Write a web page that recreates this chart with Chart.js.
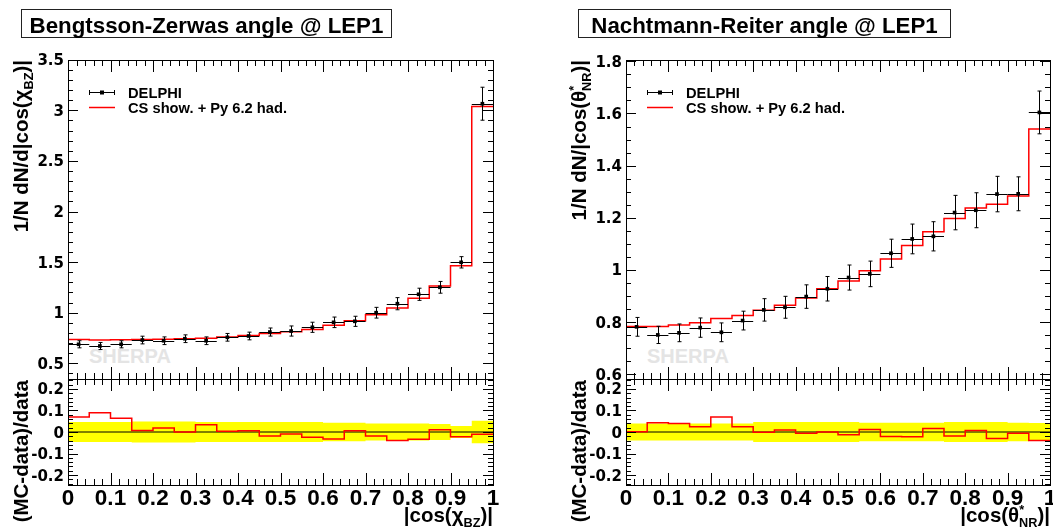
<!DOCTYPE html>
<html>
<head>
<meta charset="utf-8">
<title>Bengtsson-Zerwas and Nachtmann-Reiter angles @ LEP1</title>
<script src="https://cdn.jsdelivr.net/npm/chart.js@4.4.1/dist/chart.umd.min.js"></script>
<style>
  html, body { margin: 0; padding: 0; background: #fff; }
  #page { position: relative; width: 1053px; height: 529px; overflow: hidden;
    font-family: "Liberation Sans", Arial, Helvetica, sans-serif; font-weight: bold; color: #000; }
  #page canvas { position: absolute; left: 0; top: 0; }
  .title { position: absolute; top: 9px; height: 27px; line-height: 31px; border: 1px solid #222;
    font-size: 22.3px; text-align: center; white-space: nowrap; }
  .ytitle { position: absolute; width: 400px; height: 20px; line-height: 20px; font-size: 20.5px;
    text-align: right; white-space: nowrap; transform-origin: 0 0; transform: rotate(-90deg); }
  .xtitle { position: absolute; width: 300px; height: 20px; line-height: 20px; font-size: 20.5px;
    text-align: right; white-space: nowrap; }
  .sherpa { position: absolute; top: 346px; font-size: 20px; line-height: 20px; color: #e4e4e4; }
  sub, sup { font-size: 0.62em; line-height: 0; }
  sup.star { margin-right: -0.4em; }
</style>
</head>
<body>
<div id="page">
  <div class="sherpa" style="left:89px">SHERPA</div>
  <div class="sherpa" style="left:647px">SHERPA</div>

  <canvas id="bzMain" width="1053" height="529"></canvas>
  <canvas id="bzRatio" width="1053" height="529"></canvas>
  <canvas id="nrMain" width="1053" height="529"></canvas>
  <canvas id="nrRatio" width="1053" height="529"></canvas>

  <div class="title" style="left:21px; width:369px">Bengtsson-Zerwas angle @ LEP1</div>
  <div class="title" style="left:578px; width:371px">Nachtmann-Reiter angle @ LEP1</div>

  <div class="ytitle" style="left:11px; top:460px">1/N dN/d|cos(χ<sub>BZ</sub>)|</div>
  <div class="ytitle" style="left:11px; top:780px">(MC-data)/data</div>
  <div class="ytitle" style="left:569px; top:460px">1/N dN/|cos(θ<sup class="star">*</sup><sub>NR</sub>)|</div>
  <div class="ytitle" style="left:569px; top:780px">(MC-data)/data</div>

  <div class="xtitle" style="left:193px; top:505px">|cos(χ<sub>BZ</sub>)|</div>
  <div class="xtitle" style="left:750px; top:505px">|cos(θ<sup class="star">*</sup><sub>NR</sub>)|</div>
</div>

<script>
// bins in |cos|, 20 bins of 0.05
const binEdges = [0, 0.05, 0.1, 0.15, 0.2, 0.25, 0.3, 0.35, 0.4, 0.45, 0.5,
  0.55, 0.6, 0.65, 0.7, 0.75, 0.8, 0.85, 0.9, 0.95, 1];

// Bengtsson-Zerwas
const bzData = [0.688, 0.671, 0.688, 0.730, 0.723, 0.743, 0.723, 0.757, 0.770, 0.809,
  0.819, 0.856, 0.905, 0.915, 1.000, 1.089, 1.182, 1.251, 1.498, 3.065];
const bzErr = [0.035, 0.035, 0.035, 0.038, 0.038, 0.038, 0.038, 0.038, 0.038, 0.040,
  0.050, 0.050, 0.052, 0.050, 0.053, 0.060, 0.060, 0.058, 0.056, 0.163];
const bzMC = [0.736, 0.731, 0.732, 0.735, 0.737, 0.743, 0.748, 0.759, 0.775, 0.794,
  0.812, 0.835, 0.875, 0.920, 0.981, 1.046, 1.142, 1.264, 1.465, 3.037];
const bzRatio = [0.070, 0.090, 0.064, 0.007, 0.019, 0.000, 0.034, 0.003, 0.006, -0.019,
  -0.009, -0.024, -0.033, 0.006, -0.019, -0.039, -0.034, 0.010, -0.022, -0.010];
const bzBand = [0.046, 0.046, 0.046, 0.049, 0.049, 0.049, 0.046, 0.046, 0.046, 0.046,
  0.046, 0.046, 0.043, 0.043, 0.039, 0.039, 0.040, 0.037, 0.028, 0.052];

// Nachtmann-Reiter
const nrData = [0.782, 0.751, 0.759, 0.779, 0.761, 0.806, 0.847, 0.857, 0.898, 0.928,
  0.971, 0.985, 1.064, 1.119, 1.129, 1.220, 1.229, 1.291, 1.292, 1.604];
const nrErr = [0.036, 0.033, 0.034, 0.037, 0.036, 0.036, 0.043, 0.042, 0.045, 0.047,
  0.048, 0.049, 0.054, 0.057, 0.056, 0.066, 0.067, 0.068, 0.065, 0.082];
const nrMC = [0.783, 0.783, 0.789, 0.798, 0.814, 0.825, 0.846, 0.865, 0.893, 0.928,
  0.958, 0.997, 1.042, 1.094, 1.147, 1.197, 1.238, 1.252, 1.284, 1.540];
const nrRatio = [0.001, 0.043, 0.040, 0.024, 0.070, 0.024, -0.001, 0.009, -0.006, 0.000,
  -0.013, 0.012, -0.021, -0.022, 0.016, -0.019, 0.007, -0.030, -0.006, -0.040];
const nrBand = [0.040, 0.040, 0.040, 0.040, 0.040, 0.040, 0.046, 0.046, 0.046, 0.046,
  0.046, 0.043, 0.043, 0.043, 0.043, 0.047, 0.047, 0.047, 0.043, 0.042];

// tick labels
const xTicks = [0, 0.1, 0.2, 0.3, 0.4, 0.5, 0.6, 0.7, 0.8, 0.9, 1];
const bzYTicks = [0.5, 1, 1.5, 2, 2.5, 3, 3.5];
const nrYTicks = [0.6, 0.8, 1, 1.2, 1.4, 1.6, 1.8];
const ratioYTicks = [-0.2, -0.1, 0, 0.1, 0.2];

const binCenters = binEdges.slice(0, -1).map((e, i) => (e + binEdges[i + 1]) / 2);

function stepPoints(vals) {
  const pts = vals.map((v, i) => ({ x: binEdges[i], y: v }));
  pts.push({ x: binEdges[vals.length], y: vals[vals.length - 1] });
  return pts;
}

const fmt = (v) => String(Math.round(v * 100) / 100);

// ROOT-like frame: inward ticks on all sides, labels, error bars, legend
const rootFrame = {
  id: "rootFrame",
  beforeDatasetDraw(chart, args, opts) {
    if (!opts.errors || args.index !== 0) return;
    const ctx = chart.ctx;
    const x = chart.scales.x;
    const y = chart.scales.y;
    ctx.save();
    ctx.strokeStyle = "#000";
    ctx.lineWidth = 1;
    ctx.beginPath();
    chart.data.datasets[0].data.forEach((p, i) => {
      const xl = x.getPixelForValue(binEdges[i]);
      const xr = x.getPixelForValue(binEdges[i + 1]);
      const cx = Math.round(x.getPixelForValue(p.x)) + 0.5;
      const cy = Math.round(y.getPixelForValue(p.y)) + 0.5;
      const yt = y.getPixelForValue(p.y + opts.errors[i]);
      const yb = y.getPixelForValue(p.y - opts.errors[i]);
      ctx.moveTo(xl, cy);
      ctx.lineTo(xr, cy);
      ctx.moveTo(cx, yt);
      ctx.lineTo(cx, yb);
      ctx.moveTo(cx - 2, yt);
      ctx.lineTo(cx + 2, yt);
      ctx.moveTo(cx - 2, yb);
      ctx.lineTo(cx + 2, yb);
    });
    ctx.stroke();
    ctx.restore();
  },
  afterDraw(chart, args, opts) {
    const ctx = chart.ctx;
    const a = chart.chartArea;
    const x = chart.scales.x;
    const y = chart.scales.y;
    ctx.save();
    ctx.strokeStyle = "#000";
    ctx.lineWidth = 1;
    ctx.beginPath();
    for (let i = 0; i <= 50; i++) {
      const px = Math.round(x.getPixelForValue(i / 50)) + 0.5;
      const len = i % 5 === 0 ? 12 : 6;
      ctx.moveTo(px, a.bottom);
      ctx.lineTo(px, a.bottom - len);
      ctx.moveTo(px, a.top);
      ctx.lineTo(px, a.top + len);
    }
    const n0 = Math.ceil(y.min / opts.yMinor - 1e-6);
    const n1 = Math.floor(y.max / opts.yMinor + 1e-6);
    for (let k = n0; k <= n1; k++) {
      const v = k * opts.yMinor;
      const major = Math.abs(v / opts.yMajor - Math.round(v / opts.yMajor)) < 1e-6;
      const py = Math.round(y.getPixelForValue(v)) + 0.5;
      const len = major ? 10 : 5;
      ctx.moveTo(a.left, py);
      ctx.lineTo(a.left + len, py);
      ctx.moveTo(a.right, py);
      ctx.lineTo(a.right - len, py);
    }
    ctx.stroke();
    ctx.strokeRect(a.left + 0.5, a.top + 0.5, a.right - a.left, a.bottom - a.top);

    ctx.fillStyle = "#000";
    ctx.font = 'bold 15px "DejaVu Sans"';
    ctx.textAlign = "right";
    opts.yTicks.forEach((v) => {
      ctx.fillText(fmt(v), a.left - 4, y.getPixelForValue(v) + 5.5);
    });
    if (opts.xTicks) {
      ctx.font = 'bold 22.5px "Liberation Sans"';
      ctx.textAlign = "center";
      opts.xTicks.forEach((v) => {
        ctx.fillText(fmt(v), x.getPixelForValue(v), a.bottom + 20);
      });
    }

    if (opts.legend) {
      const ds = chart.data.datasets;
      const lx = a.left + 21;
      const ly1 = a.top + 32.5;
      const ly2 = a.top + 47.5;
      ctx.beginPath();
      ctx.moveTo(lx, ly1);
      ctx.lineTo(lx + 26, ly1);
      ctx.moveTo(lx + 0.5, ly1 - 2.5);
      ctx.lineTo(lx + 0.5, ly1 + 2.5);
      ctx.moveTo(lx + 25.5, ly1 - 2.5);
      ctx.lineTo(lx + 25.5, ly1 + 2.5);
      ctx.stroke();
      ctx.fillRect(lx + 11, ly1 - 2, 4, 4);
      ctx.strokeStyle = ds[1].borderColor;
      ctx.lineWidth = ds[1].borderWidth;
      ctx.beginPath();
      ctx.moveTo(lx, ly2);
      ctx.lineTo(lx + 26, ly2);
      ctx.stroke();
      ctx.font = 'bold 14.7px "Liberation Sans"';
      ctx.textAlign = "left";
      ctx.fillText(ds[0].label, a.left + 60, a.top + 37.7);
      ctx.fillText(ds[1].label, a.left + 60, a.top + 53);
    }
    ctx.restore();
  },
};
Chart.register(rootFrame);

function baseOptions(area, yMin, yMax, frame) {
  return {
    responsive: false,
    animation: false,
    devicePixelRatio: 1,
    events: [],
    layout: {
      autoPadding: false,
      padding: { left: area.left, top: area.top, right: 1053 - area.right, bottom: 529 - area.bottom },
    },
    scales: {
      x: { type: "linear", min: 0, max: 1, display: false },
      y: { type: "linear", min: yMin, max: yMax, display: false },
    },
    plugins: {
      legend: { display: false },
      tooltip: { enabled: false },
      rootFrame: frame,
    },
  };
}

function mainChart(id, area, vals, errs, mc, yMin, yMax, yTicks, yMajor, yMinor) {
  return new Chart(document.getElementById(id), {
    type: "line",
    data: {
      datasets: [
        {
          label: "DELPHI",
          data: vals.map((v, i) => ({ x: binCenters[i], y: v })),
          showLine: false,
          pointStyle: "rect",
          pointRadius: 2.6,
          pointBackgroundColor: "#000",
          pointBorderColor: "#000",
          pointBorderWidth: 0,
          order: 1,
        },
        {
          label: "CS show. + Py 6.2 had.",
          data: stepPoints(mc),
          stepped: true,
          borderColor: "#ff0000",
          borderWidth: 1.5,
          pointRadius: 0,
          fill: false,
          order: 2,
        },
      ],
    },
    options: baseOptions({ left: area.left, right: area.right, top: 60, bottom: 379 }, yMin, yMax, {
      errors: errs,
      yTicks: yTicks,
      yMajor: yMajor,
      yMinor: yMinor,
      legend: true,
    }),
  });
}

function ratioChart(id, area, ratio, band) {
  return new Chart(document.getElementById(id), {
    type: "line",
    data: {
      datasets: [
        {
          label: "MC",
          data: stepPoints(ratio),
          stepped: true,
          borderColor: "#ff0000",
          borderWidth: 1.5,
          pointRadius: 0,
          fill: false,
          order: 1,
        },
        {
          label: "zero",
          data: [{ x: 0, y: 0 }, { x: 1, y: 0 }],
          borderColor: "#000",
          borderWidth: 1,
          pointRadius: 0,
          fill: false,
          order: 2,
        },
        {
          label: "band up",
          data: stepPoints(band),
          stepped: true,
          borderColor: "rgba(0,0,0,0)",
          borderWidth: 0,
          pointRadius: 0,
          backgroundColor: "#ffff00",
          fill: "origin",
          order: 3,
        },
        {
          label: "band down",
          data: stepPoints(band.map((b) => -b)),
          stepped: true,
          borderColor: "rgba(0,0,0,0)",
          borderWidth: 0,
          pointRadius: 0,
          backgroundColor: "#ffff00",
          fill: "origin",
          order: 4,
        },
      ],
    },
    options: baseOptions({ left: area.left, right: area.right, top: 379, bottom: 485 }, -0.2465, 0.2465, {
      yTicks: ratioYTicks,
      yMajor: 0.1,
      yMinor: 0.02,
      xTicks: xTicks,
    }),
  });
}

const bzArea = { left: 68, right: 493 };
const nrArea = { left: 626, right: 1050 };

mainChart("bzMain", bzArea, bzData, bzErr, bzMC, 0.345, 3.497, bzYTicks, 0.5, 0.1);
ratioChart("bzRatio", bzArea, bzRatio, bzBand);
mainChart("nrMain", nrArea, nrData, nrErr, nrMC, 0.582, 1.805, nrYTicks, 0.2, 0.05);
ratioChart("nrRatio", nrArea, nrRatio, nrBand);
</script>
</body>
</html>
